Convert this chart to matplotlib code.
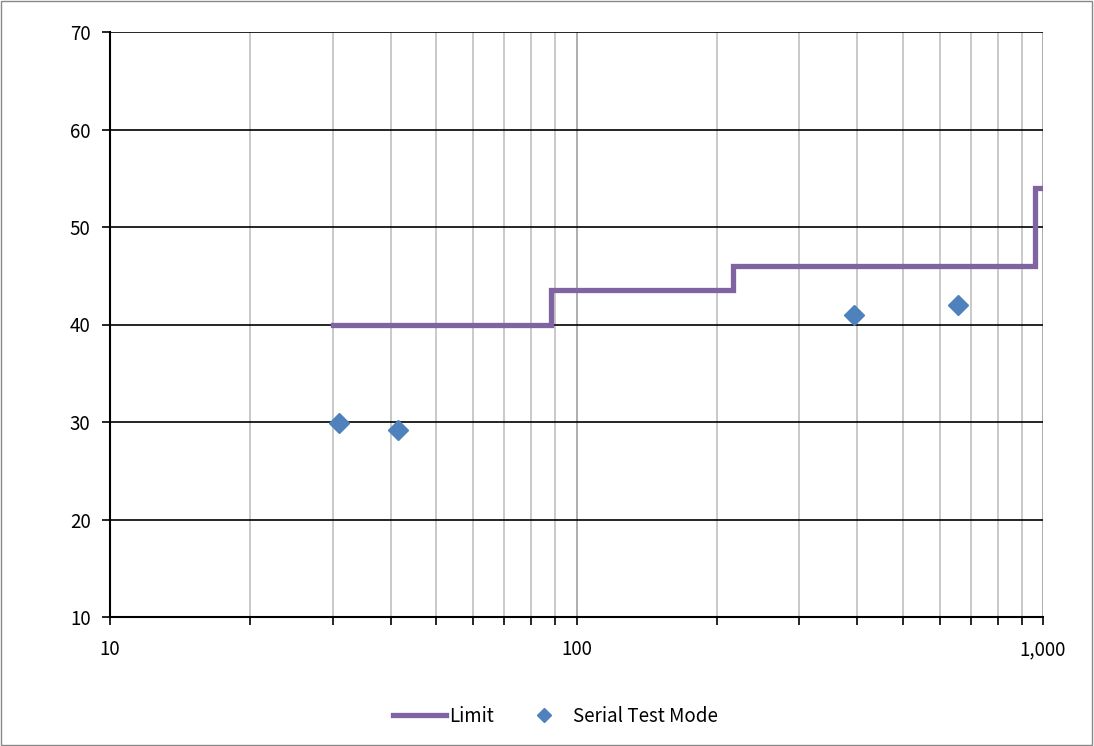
import matplotlib
matplotlib.use("Agg")
import matplotlib.pyplot as plt
from matplotlib.ticker import FixedLocator, NullFormatter, FuncFormatter
from matplotlib.patches import Rectangle

plt.rcParams['font.family'] = ['Noto Sans CJK KR', 'DejaVu Sans']

# Limit (step line)
limit_freq = [30, 88, 88, 216, 216, 960, 960, 1000]
limit_level = [40, 40, 43.5, 43.5, 46, 46, 54, 54]

# Serial Test Mode measurements
meas_freq = [31, 41.4, 393, 657]
meas_level = [29.9, 29.2, 41.0, 42.0]

fig = plt.figure(figsize=(10.94, 7.46), dpi=100)
ax = fig.add_axes([110/1094, 1 - 617/746, 933/1094, 585/746])

ax.set_xscale('log')
ax.set_xlim(10, 1000)
ax.set_ylim(10, 70)

minor = [m * d for d in (10, 100) for m in range(2, 10)]
ax.xaxis.set_major_locator(FixedLocator([10, 100, 1000]))
ax.xaxis.set_minor_locator(FixedLocator(minor))
ax.xaxis.set_minor_formatter(NullFormatter())
ax.xaxis.set_major_formatter(FuncFormatter(lambda v, p: f"{int(v):,}"))
ax.set_yticks(range(10, 71, 10))

ax.grid(True, which='minor', axis='x', color='#c0c0c0', lw=1.2)
ax.grid(True, which='major', axis='x', color='#a0a0a0', lw=1.2)
ax.grid(True, which='major', axis='y', color='black', lw=1.2)
ax.set_axisbelow(True)

for s in ('top', 'right'):
    ax.spines[s].set_visible(False)
ax.spines['left'].set_linewidth(1.5)
ax.spines['bottom'].set_linewidth(1.5)

ax.tick_params(axis='both', which='major', direction='out', length=6, width=1.2,
               labelsize=13.5, pad=8)
ax.tick_params(axis='x', which='minor', direction='out', length=6, width=1.2)
ax.tick_params(axis='x', which='major', pad=10)

ax.plot(limit_freq, limit_level, color='#8064A2', lw=3.8, label='Limit',
        solid_joinstyle='miter', zorder=3)
ax.plot(meas_freq, meas_level, ls='none', marker='D', ms=10.5, color='#4F81BD',
        label='Serial Test Mode', zorder=4)

leg = fig.legend(loc='center', bbox_to_anchor=(0.508, 1 - 716/746), ncol=2,
                 frameon=False, fontsize=13.5, handlelength=2.8, handletextpad=0.15,
                 columnspacing=1.3, markerscale=0.7)

fig.patches.append(Rectangle((0.001, 0.001), 0.997, 0.997, transform=fig.transFigure,
                             fill=False, edgecolor='#888888', lw=1))

fig.savefig('out.png', dpi=100)
